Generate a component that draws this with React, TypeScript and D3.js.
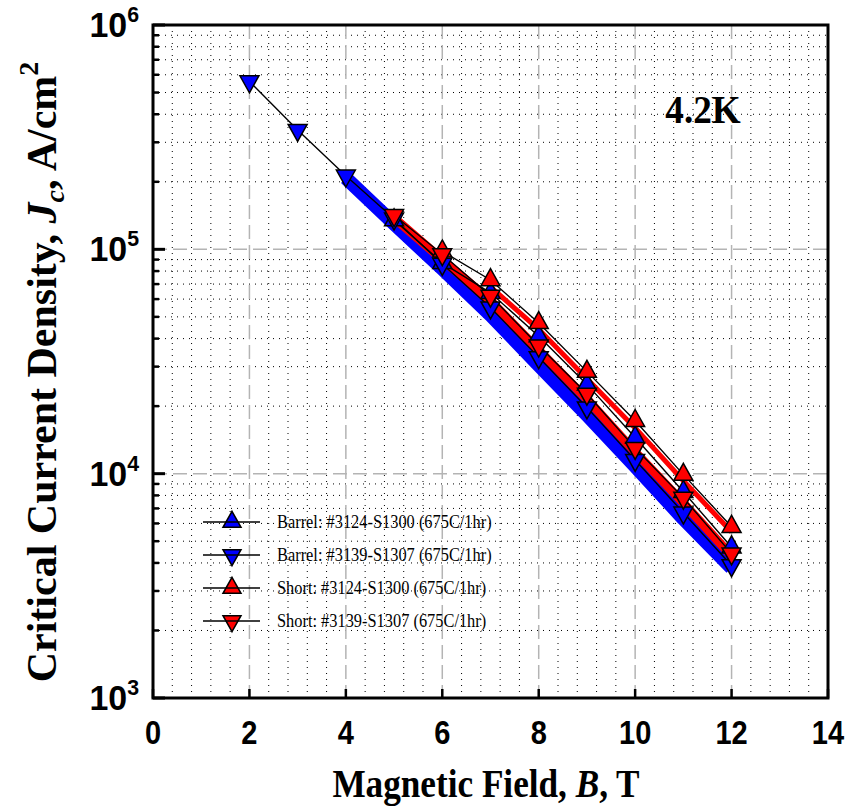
import React from 'react';
import * as d3 from 'd3';

// ---------- data ----------
const xTickValues = [0, 2, 4, 6, 8, 10, 12, 14];
const yDecadeExponents = [3, 4, 5, 6];

const barrelUpB = [5, 6, 7, 8, 9, 10, 11, 12];
const barrelUpJc = [1.35e5, 8.7e4, 6.4e4, 4.1e4, 2.5e4, 1.45e4, 8.3e3, 4.7e3];

const barrelDownB = [2, 3, 4, 5, 6, 7, 8, 9, 10, 11, 12];
const barrelDownJc = [5.6e5, 3.4e5, 2.13e5, 1.37e5, 8.6e4, 5.5e4, 3.3e4, 1.97e4, 1.15e4, 6.7e3, 3.9e3];

const shortUpB = [6, 7, 8, 9, 10, 11, 12];
const shortUpJc = [9.8e4, 7.3e4, 4.7e4, 2.85e4, 1.72e4, 9.9e3, 5.8e3];

const shortDownB = [5, 6, 7, 8, 9, 10, 11, 12];
const shortDownJc = [1.42e5, 9.5e4, 6.2e4, 3.72e4, 2.27e4, 1.3e4, 7.8e3, 4.4e3];

// wide colour bands (spread of samples)
const blueBandB = [4, 5, 6, 7, 8, 9, 10, 11, 12];
const blueBandJc = [2.08e5, 1.3e5, 8.2e4, 5.1e4, 3.05e4, 1.83e4, 1.08e4, 6.3e3, 3.8e3];
const redBandLowB = [5, 6, 7, 8, 9, 10, 11, 12];
const redBandLowJc = [1.38e5, 9.0e4, 5.9e4, 3.55e4, 2.15e4, 1.25e4, 7.4e3, 4.3e3];
const redBandHighB = [7, 8, 9, 10, 11, 12];
const redBandHighJc = [6.8e4, 4.4e4, 2.65e4, 1.6e4, 9.3e3, 5.5e3];

const seriesNames = [
  'Barrel: #3124-S1300 (675C/1hr)',
  'Barrel: #3139-S1307 (675C/1hr)',
  'Short: #3124-S1300 (675C/1hr)',
  'Short: #3139-S1307 (675C/1hr)',
];
const seriesColors = ['#0000ff', '#0000ff', '#ff0000', '#ff0000'];
const seriesDirs = ['up', 'down', 'up', 'down'];

// ---------- layout ----------
const W = 848;
const H = 809;
const L = 153, R = 828, T = 25, B = 698;
const SX = 0.88; // horizontal compression of lettering

const x = d3.scaleLinear().domain([0, 14]).range([L, R]);
const y = d3.scaleLog().domain([1e3, 1e6]).range([B, T]);

const serif = '"Liberation Serif", "Times New Roman", serif';
const sans = '"Liberation Sans", Arial, sans-serif';

function tri(dir: string, w: number, h: number) {
  if (dir === 'up') return `M0,${-h * 2 / 3}L${w / 2},${h / 3}L${-w / 2},${h / 3}Z`;
  return `M0,${h * 2 / 3}L${w / 2},${-h / 3}L${-w / 2},${-h / 3}Z`;
}

export default function App() {
  const series = [
    { xs: barrelUpB, ys: barrelUpJc },
    { xs: barrelDownB, ys: barrelDownJc },
    { xs: shortUpB, ys: shortUpJc },
    { xs: shortDownB, ys: shortDownJc },
  ].map((s, i) => ({
    ...s,
    name: seriesNames[i],
    color: seriesColors[i],
    dir: seriesDirs[i],
  }));

  const bands = [
    { xs: blueBandB, ys: blueBandJc, color: '#0000ff', w: 14 },
    { xs: redBandLowB, ys: redBandLowJc, color: '#ff0000', w: 9 },
    { xs: redBandHighB, ys: redBandHighJc, color: '#ff0000', w: 5 },
  ];

  const line = d3
    .line<[number, number]>()
    .x((d) => x(d[0]))
    .y((d) => y(d[1]));

  const minorX = d3.range(0, 14.001, 0.4).filter((v) => Math.abs(v / 2 - Math.round(v / 2)) > 1e-6);
  const minorY: number[] = [];
  [3, 4, 5].forEach((e) => {
    for (let m = 2; m <= 9; m++) minorY.push(m * Math.pow(10, e));
  });

  const legendY = [522, 555, 588, 621];

  return (
    <svg width={W} height={H} style={{ position: 'absolute', left: 0, top: 0, background: '#fff' }}>
      <rect x={0} y={0} width={W} height={H} fill="#fff" />
      {/* minor grid */}
      <g stroke="#000" strokeWidth={1} strokeDasharray="1,5">
        {minorX.map((v) => (
          <line key={'mx' + v} x1={x(v)} x2={x(v)} y1={T} y2={B} />
        ))}
        {minorY.map((v) => (
          <line key={'my' + v} x1={L} x2={R} y1={y(v)} y2={y(v)} />
        ))}
      </g>
      {/* major grid */}
      <g stroke="#b4b4b4" strokeWidth={1.5} strokeDasharray="14,6">
        {xTickValues.slice(1, -1).map((v) => (
          <line key={'gx' + v} x1={x(v)} x2={x(v)} y1={T} y2={B} />
        ))}
        {yDecadeExponents.slice(1, -1).map((e) => (
          <line key={'gy' + e} x1={L} x2={R} y1={y(Math.pow(10, e))} y2={y(Math.pow(10, e))} />
        ))}
      </g>

      {/* bands */}
      {bands.map((b, i) => (
        <path
          key={'band' + i}
          d={line(b.xs.map((v, j) => [v, b.ys[j]] as [number, number])) || ''}
          fill="none"
          stroke={b.color}
          strokeWidth={b.w}
          strokeLinejoin="round"
        />
      ))}

      {/* series lines */}
      {series.map((s, i) => (
        <path
          key={'line' + i}
          d={line(s.xs.map((v, j) => [v, s.ys[j]] as [number, number])) || ''}
          fill="none"
          stroke="#000"
          strokeWidth={1.4}
        />
      ))}

      {/* markers */}
      {series.map((s, i) => (
        <g key={'mk' + i}>
          {s.xs.map((v, j) => (
            <path
              key={j}
              transform={`translate(${x(v)},${y(s.ys[j])})`}
              d={tri(s.dir, 19, 17)}
              fill={s.color}
              stroke="#000"
              strokeWidth={1.5}
              strokeLinejoin="miter"
            />
          ))}
        </g>
      ))}

      {/* axes frame */}
      <rect x={L} y={T} width={R - L} height={B - T} fill="none" stroke="#000" strokeWidth={3} />
      {/* ticks */}
      <g stroke="#000">
        {yDecadeExponents.map((e) => (
          <line key={'yt' + e} x1={L} x2={L + 12} y1={y(Math.pow(10, e))} y2={y(Math.pow(10, e))} strokeWidth={3} />
        ))}
        {minorY.map((v) => (
          <line key={'ymt' + v} x1={L} x2={L + 6} y1={y(v)} y2={y(v)} strokeWidth={2.5} />
        ))}
        {xTickValues.map((v) => (
          <line key={'xt' + v} x1={x(v)} x2={x(v)} y1={B} y2={B - 9} strokeWidth={2.5} />
        ))}
      </g>

      {/* x tick labels */}
      <g fontFamily={sans} fontWeight="bold" fontSize={33} textAnchor="middle">
        {xTickValues.map((v) => (
          <text key={'xl' + v} transform={`translate(${x(v)},${B + 46}) scale(${SX},1)`}>
            {v}
          </text>
        ))}
      </g>
      {/* y tick labels */}
      <g fontFamily={sans} fontWeight="bold" fontSize={35} textAnchor="end">
        {yDecadeExponents.map((e) => (
          <text key={'yl' + e} transform={`translate(${L - 14},${y(Math.pow(10, e)) + 12}) scale(0.97,1)`}>
            10
            <tspan fontSize={22} dy={-15}>
              {e}
            </tspan>
          </text>
        ))}
      </g>

      {/* axis titles */}
      <text
        transform={`translate(486,797) scale(${SX},1)`}
        textAnchor="middle"
        fontFamily={serif}
        fontWeight="bold"
        fontSize={40}
      >
        Magnetic Field, <tspan fontStyle="italic">B</tspan>, T
      </text>
      <text
        transform={`translate(56,372) rotate(-90) scale(1,1)`}
        textAnchor="middle"
        fontFamily={serif}
        fontWeight="bold"
        fontSize={42}
      >
        Critical Current Density, <tspan fontStyle="italic">J</tspan>
        <tspan fontSize={28} dy={8} fontStyle="italic">c</tspan>
        <tspan dy={-8}>, A/cm</tspan>
        <tspan fontSize={28} dy={-18}>2</tspan>
      </text>

      {/* annotation */}
      <text transform={`translate(703,123) scale(0.93,1)`} textAnchor="middle" fontFamily={serif} fontWeight="bold" fontSize={40}>
        4.2K
      </text>

      {/* legend */}
      {series.map((s, i) => (
        <g key={'lg' + i} transform={`translate(0,${legendY[i]})`}>
          <path transform="translate(232,0)" d={tri(s.dir, 18, 16)} fill={s.color} stroke="#000" strokeWidth={1.5} />
          <line x1={203} x2={260} y1={0} y2={0} stroke="#000" strokeWidth={1.6} />
          <text transform={`translate(277,6) scale(0.84,1)`} fontFamily={serif} fontSize={19.5}>
            {s.name}
          </text>
        </g>
      ))}
    </svg>
  );
}
